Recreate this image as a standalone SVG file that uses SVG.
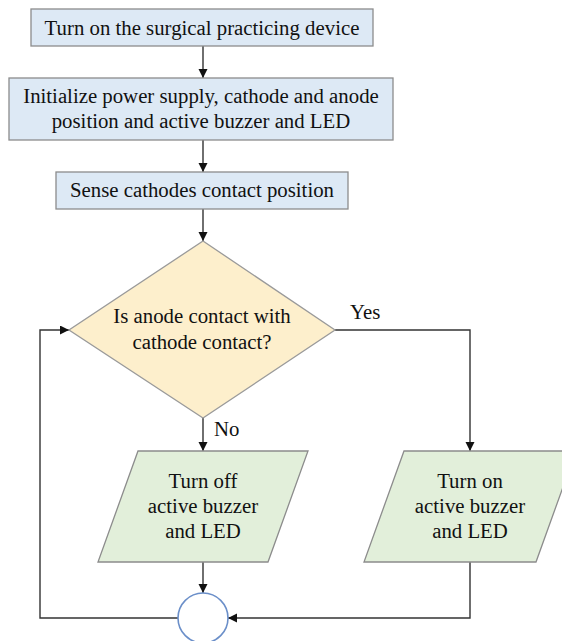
<svg xmlns="http://www.w3.org/2000/svg" width="562" height="641" viewBox="0 0 562 641">
  <defs>
    <marker id="arr" markerUnits="userSpaceOnUse" markerWidth="10" markerHeight="10" refX="9" refY="4.5" orient="auto">
      <path d="M0,0 L9,4.5 L0,9 z" fill="#111"/>
    </marker>
    <style>
      .box{fill:#dde9f5;stroke:#8c8c8c;stroke-width:1.3}
      .dec{fill:#fdefcc;stroke:#9a9a9a;stroke-width:1.3}
      .io{fill:#e2efda;stroke:#8c8c8c;stroke-width:1.3}
      .conn{fill:#fff;stroke:#6b8fc9;stroke-width:1.6}
      .line{fill:none;stroke:#333;stroke-width:1.4;marker-end:url(#arr)}
      text{font-family:'Liberation Serif','Times New Roman',serif;font-size:20.8px;fill:#111;text-anchor:middle}
      .lbl{text-anchor:start}
    </style>
  </defs>
  <rect width="562" height="641" fill="#fff"/>
  <g id="edges">
    <path class="line" d="M203,46 V78"/>
    <path class="line" d="M203,140 V172"/>
    <path class="line" d="M203,209 V241"/>
    <path class="line" d="M335,330 H470 V451"/>
    <path class="line" d="M203,418 V451"/>
    <path class="line" d="M203,562 V593"/>
    <path class="line" d="M470,562 V618 H228"/>
    <path class="line" d="M178,618 H40 V330 H69"/>
    <text class="lbl" x="350" y="319">Yes</text>
    <text class="lbl" x="214" y="436">No</text>
  </g>
  <g id="start">
    <rect class="box" x="31" y="9" width="342" height="37"/>
    <text x="202" y="35">Turn on the surgical practicing device</text>
  </g>
  <g id="init">
    <rect class="box" x="9" y="78" width="384" height="62"/>
    <text x="201" y="103">Initialize power supply, cathode and anode</text>
    <text x="201" y="128">position and active buzzer and LED</text>
  </g>
  <g id="sense">
    <rect class="box" x="56" y="172" width="292" height="37"/>
    <text x="202" y="197">Sense cathodes contact position</text>
  </g>
  <g id="decision">
    <polygon class="dec" points="203,241 335,330 203,418 69,330"/>
    <text x="202" y="323">Is anode contact with</text>
    <text x="202" y="349">cathode contact?</text>
  </g>
  <g id="off">
    <polygon class="io" points="138,451 308,451 268,562 98,562"/>
    <text x="203" y="488">Turn off</text>
    <text x="203" y="513">active buzzer</text>
    <text x="203" y="538">and LED</text>
  </g>
  <g id="on">
    <polygon class="io" points="404,451 576,451 536,562 364,562"/>
    <text x="470" y="488">Turn on</text>
    <text x="470" y="513">active buzzer</text>
    <text x="470" y="538">and LED</text>
  </g>
  <g id="join">
    <circle class="conn" cx="203" cy="618" r="25"/>
  </g>
</svg>
